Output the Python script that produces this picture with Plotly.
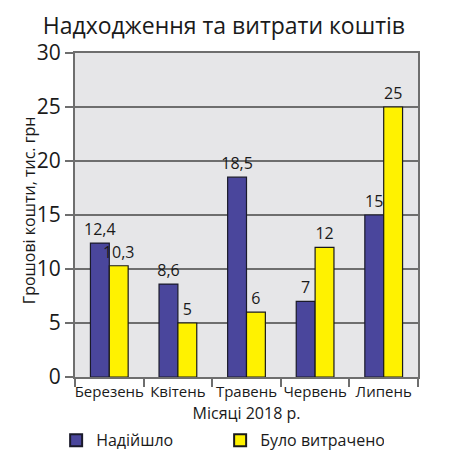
import plotly.graph_objects as go

months = ["Березень", "Квітень", "Травень", "Червень", "Липень"]
received = [12.4, 8.6, 18.5, 7, 15]
spent = [10.3, 5, 6, 12, 25]
y_ticks = [0, 5, 10, 15, 20, 25, 30]


def label(v):
    return f"{v:g}".replace(".", ",")


font = "Open Sans, sans-serif"
narrow = "Noto Sans Condensed, Open Sans, sans-serif"
grid = "#6e6e6e"

fig = go.Figure()
fig.add_trace(go.Bar(
    x=months, y=received, name="Надійшло",
    marker=dict(color="#4a469c", line=dict(color="#1a1a2a", width=1.2)),
    text=[label(v) for v in received], textposition="outside",
    constraintext="none",
    textfont=dict(size=16, color="#1a1a1a", family=narrow),
    cliponaxis=False,
))
fig.add_trace(go.Bar(
    x=months, y=spent, name="Було витрачено",
    marker=dict(color="#fff200", line=dict(color="#1a1a1a", width=1.2)),
    text=[label(v) for v in spent], textposition="outside",
    constraintext="none",
    textfont=dict(size=16, color="#1a1a1a", family=narrow),
    cliponaxis=False,
))

# y title sits close to the tick labels, as in the original
fig.add_annotation(
    text="Грошові кошти, тис. грн", textangle=-90,
    xref="paper", yref="paper", x=-0.134, y=0.515,
    xanchor="center", yanchor="middle", showarrow=False,
    font=dict(size=16, family=narrow, color="#1a1a1a"),
)

# page body keeps its default 8px margin, so the figure is 8px smaller
fig.update_layout(
    width=447, height=463,
    margin=dict(l=67, r=37, t=45, b=94, autoexpand=False),
    title=dict(text="Надходження та витрати коштів", x=0.483, xref="container",
               y=0.962, yref="container", xanchor="center", yanchor="middle",
               font=dict(size=23, color="#1a1a1a")),
    plot_bgcolor="#e6e6e8",
    paper_bgcolor="white",
    barmode="group", bargap=0.45, bargroupgap=0,
    font=dict(family=font, color="#1a1a1a"),
    uniformtext=dict(mode=False),
    showlegend=True,
    legend=dict(orientation="h", x=-0.055, xanchor="left", y=-0.143, yanchor="top",
                font=dict(size=16, color="#1a1a1a", family=narrow),
                entrywidth=119, entrywidthmode="pixels", itemsizing="constant",
                bgcolor="rgba(0,0,0,0)"),
    xaxis=dict(
        title=dict(text="Місяці 2018 р.", font=dict(size=16, family=narrow), standoff=8),
        tickfont=dict(size=15, family=narrow), tickangle=0, ticks="outside",
        tickson="boundaries", automargin=False,
        ticklen=8, tickwidth=2, tickcolor=grid,
        showline=True, linecolor=grid, linewidth=2, mirror=True,
        showgrid=False,
    ),
    yaxis=dict(
        range=[0, 30], tickvals=y_ticks, automargin=False,
        tickfont=dict(size=21),
        ticks="outside", ticklen=8, tickwidth=2, tickcolor=grid,
        showgrid=True, gridcolor=grid, gridwidth=2,
        showline=True, linecolor=grid, linewidth=2, mirror=True,
        zeroline=False,
    ),
)

fig.write_html("out.html")
